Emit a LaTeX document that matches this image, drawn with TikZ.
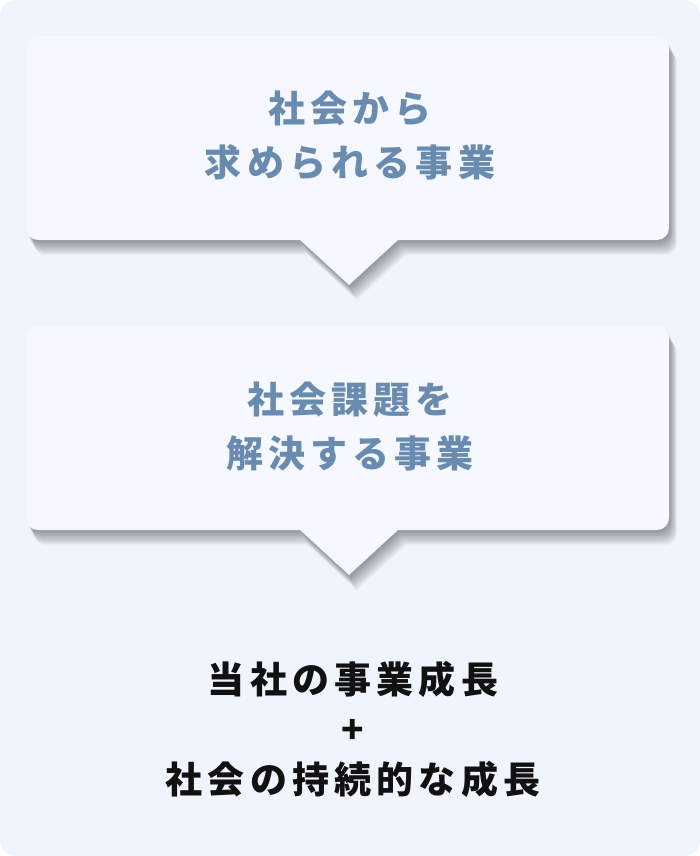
\documentclass[tikz,border=0pt]{standalone}
\usepackage{fontspec}
\newfontfamily\jpfont{Noto Sans CJK JP}[LetterSpace=14]
\definecolor{bgblue}{HTML}{EFF4FD}
\definecolor{boxfill}{HTML}{F5F8FE}
\definecolor{labelblue}{HTML}{6A8BB0}
\definecolor{resulttext}{HTML}{111111}

\begin{document}
\begin{tikzpicture}[x=1pt, y=-1pt,
  bubble/.style={fill=boxfill},
  bubbleshade/.style={fill=black, fill opacity=0.024},
  bubbletext/.style={align=center, text=labelblue,
    font=\jpfont\bfseries\fontsize{37}{54}\selectfont},
  result/.style={align=center, text=resulttext,
    font=\jpfont\bfseries\fontsize{37}{50}\selectfont}]

  \newcommand\Bubble[2]{%
    \path[#1] (349,{#2+249}) -- (300,{#2+204}) [rounded corners=12]
      -- (26,{#2+204}) -- (26,#2) -- (669,#2) -- (669,{#2+204})
      [sharp corners] -- (398,{#2+204}) -- cycle;}

  \useasboundingbox (0,0) rectangle (700,856);
  \fill[bgblue, rounded corners=16] (0,0) rectangle (700,856);

  % soft shadow, then the two speech boxes
  \foreach \k in {1,...,18}{
    \Bubble{bubbleshade, shift={(0.45*\k,0.85*\k)}}{36}
    \Bubble{bubbleshade, shift={(0.45*\k,0.85*\k)}}{326}
  }
  \Bubble{bubble}{36}
  \Bubble{bubble}{326}

  \node[bubbletext] (need) at (350,136) {社会から\\求められる事業};
  \node[bubbletext] (solve) at (350,427) {社会課題を\\解決する事業};

  % outcome
  \node[result] (growth) at (353,729) {当社の事業成長\\+\\社会の持続的な成長};
\end{tikzpicture}
\end{document}
